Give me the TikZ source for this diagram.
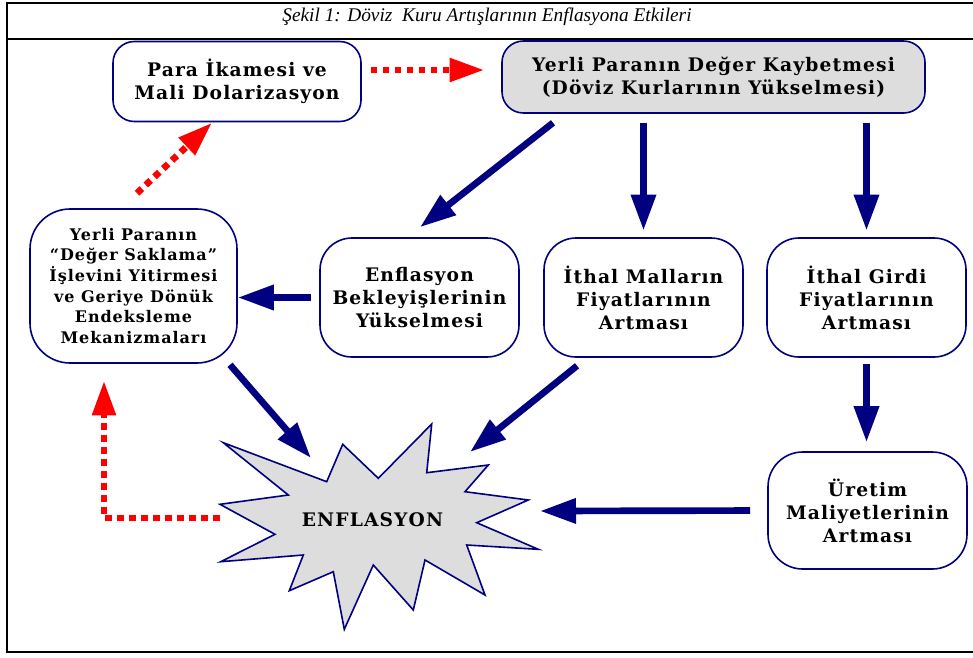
\documentclass[tikz,border=0pt]{standalone}
\usepackage{fontspec}
\usetikzlibrary{arrows.meta}
\newfontfamily\kutufont[LetterSpace=6]{DejaVu Serif}
\newfontfamily\baslikfont{Liberation Serif}
\definecolor{lacivert}{RGB}{0,0,128}
\definecolor{acikgri}{RGB}{221,221,221}
\definecolor{kirmizi}{RGB}{255,0,0}
\tikzset{
  kutu/.style={draw=lacivert, line width=1.2pt, fill=white, rounded corners=16pt,
    align=center, inner sep=2pt, font=\kutufont\bfseries\fontsize{14}{17.3}\selectfont},
  ok/.style={draw=lacivert, line width=5pt, -{Triangle[length=27pt,width=18pt]}},
  nokta/.style={draw=kirmizi, line width=5pt, dash pattern=on 5pt off 4pt,
    -{Triangle[length=26pt,width=17pt]}}
}
\begin{document}
\begin{tikzpicture}[x=0.75pt,y=-0.75pt]
\useasboundingbox (0,0) rectangle (973,657);
\draw[line width=1.5pt] (973,3) -- (7,3) -- (7,652) -- (973,652);
\draw[line width=1.5pt] (7,39) -- (973,39);
\node[font=\baslikfont\itshape\fontsize{14.5}{16}\selectfont] (baslik) at (487,17)
  {Şekil 1: Döviz\ \ Kuru Artışlarının Enflasyona Etkileri};

\node[kutu, minimum width=248*0.75pt, minimum height=80*0.75pt] (para) at (237,81.5)
  {Para İkamesi ve\\Mali Dolarizasyon};
\node[kutu, fill=acikgri, minimum width=423*0.75pt, minimum height=72*0.75pt] (yerli) at (713.5,77)
  {Yerli Paranın Değer Kaybetmesi\\(Döviz Kurlarının Yükselmesi)};
\node[kutu, rounded corners=24pt, minimum width=199*0.75pt, minimum height=119*0.75pt] (bekle) at (419.5,297.5)
  {Enflasyon\\Bekleyişlerinin\\Yükselmesi};
\node[kutu, rounded corners=24pt, minimum width=199*0.75pt, minimum height=119*0.75pt] (ithal) at (643.5,297.5)
  {İthal Malların\\Fiyatlarının\\Artması};
\node[kutu, rounded corners=24pt, minimum width=199*0.75pt, minimum height=119*0.75pt] (girdi) at (866.5,297.5)
  {İthal Girdi\\Fiyatlarının\\Artması};
\node[kutu, rounded corners=30pt, minimum width=207*0.75pt, minimum height=154*0.75pt,
  font=\kutufont\bfseries\fontsize{12}{15.5}\selectfont] (saklama) at (133.5,286)
  {Yerli Paranın\\“Değer Saklama”\\İşlevini Yitirmesi\\ve Geriye Dönük\\Endeksleme\\Mekanizmaları};
\node[kutu, rounded corners=26pt, minimum width=199*0.75pt, minimum height=117*0.75pt] (uretim) at (867.5,510.5)
  {Üretim\\Maliyetlerinin\\Artması};

\draw[draw=lacivert, line width=1.2pt, fill=acikgri]
  (223.3,442.7) -- (326.7,481.7) -- (342.7,444.3) -- (378.3,478.3) -- (431.7,424)
  -- (426.7,472.7) -- (488.3,465) -- (465,491.7) -- (528.3,500) -- (476.7,522.7)
  -- (538.3,549.3) -- (466.7,545) -- (485,595) -- (425,560) -- (413.3,610)
  -- (373.3,565) -- (344.3,629.3) -- (333.3,571.7) -- (289.3,590.7) -- (303.3,555)
  -- (220.7,561.7) -- (275,534.3) -- (220,504.3) -- (288.3,495) -- cycle;
\node[font=\kutufont\bfseries\fontsize{14}{17}\selectfont] (enf) at (372.5,520) {ENFLASYON};
\coordinate (enfsag) at (540,511);
\coordinate (enfsol) at (220,518);
\coordinate (enfsolust) at (311,458);
\coordinate (enfsagust) at (470,452);

\draw[ok] ([shift={(-160.5,9)}]yerli.south) -- ([shift={(0.5,-10)}]bekle.north);
\draw[ok, shorten <=6.75pt, shorten >=5pt] (yerli.south -| ithal.north) -- (ithal.north);
\draw[ok, shorten <=6.75pt, shorten >=5pt] (yerli.south -| girdi.north) -- (girdi.north);
\draw[ok, shorten <=4.5pt, shorten >=6.75pt] (girdi.south) -- (girdi.south |- uretim.north);
\draw[ok, shorten <=12.75pt] (uretim.west) -- (enfsag);
\draw[ok, shorten <=6pt] (bekle.west) -- (bekle.west -| saklama.east);
\draw[ok] ([shift={(96.5,1)}]saklama.south) -- (enfsolust);
\draw[ok] ([shift={(-66.5,8)}]ithal.south) -- (enfsagust);

\draw[nokta] ([shift={(9,-11.5)}]para.east) -- ([shift={(-17,-7)}]yerli.west);
\draw[nokta] ([shift={(3.5,-15)}]saklama.north) -- ([shift={(-25,0.5)}]para.south);
\draw[nokta] (enfsol) -| ([shift={(-29.5,17)}]saklama.south);
\end{tikzpicture}
\end{document}
